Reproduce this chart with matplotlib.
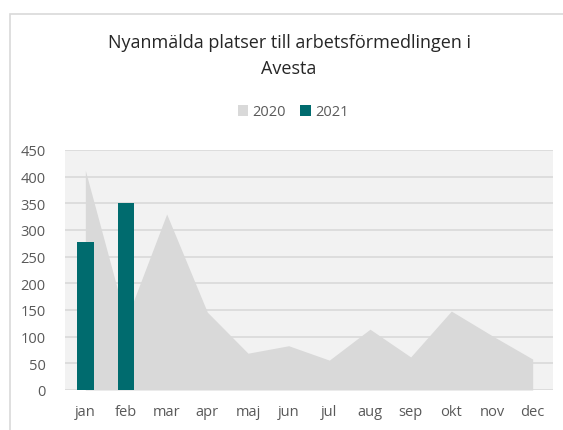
import numpy as np
import matplotlib.pyplot as plt
from matplotlib.patches import Rectangle

months = ['jan', 'feb', 'mar', 'apr', 'maj', 'jun', 'jul', 'aug', 'sep', 'okt', 'nov', 'dec']
values_2020 = [412, 130, 330, 146, 69, 83, 56, 114, 62, 148, 102, 58]
values_2021 = [278, 350]
yticks = [0, 50, 100, 150, 200, 250, 300, 350, 400, 450]

plt.rcParams['font.family'] = ['Open Sans', 'DejaVu Sans']

fig = plt.figure(figsize=(5.63, 4.31), dpi=100)
fig.patches.append(Rectangle((9.5 / 563, -0.1), 1.2, (431 - 15) / 431 + 0.1,
                             transform=fig.transFigure, fill=False,
                             edgecolor='#d9d9d9', linewidth=1.2))

ax = fig.add_axes([65 / 563, 40 / 431, 488 / 563, 240 / 431])
ax.set_facecolor('#f2f2f2')

x = np.arange(len(months))
ax.fill_between(x, values_2020, 0, color='#d9d9d9', linewidth=0, zorder=2, label='2020')
ax.bar(np.arange(len(values_2021)), values_2021, width=0.41, color='#006b6e', zorder=3, label='2021')

ax.set_xlim(-0.5, len(months) - 0.5)
ax.set_ylim(0, 450)
ax.set_yticks(yticks)
ax.set_xticks(x, months)
ax.grid(axis='y', color='#d9d9d9', linewidth=1.2, zorder=1)
ax.set_axisbelow(True)
for s in ax.spines.values():
    s.set_visible(False)
ax.tick_params(length=0, labelsize=10.5, labelcolor='#595959')
ax.tick_params(axis='y', pad=14)
ax.tick_params(axis='x', pad=10)

fig.text(289 / 563, 1 - 56 / 431, 'Nyanmälda platser till arbetsförmedlingen i\nAvesta',
         ha='center', va='center', fontsize=13, color='#262626', linespacing=1.55)

ax.legend(loc='center', bbox_to_anchor=(293 / 563, 1 - 113 / 431), bbox_transform=fig.transFigure,
          ncol=2, frameon=False, fontsize=10.5, labelcolor='#595959',
          handlelength=0.7, handleheight=0.7, handletextpad=0.3, columnspacing=1.0)

fig.savefig('out.png', dpi=100)
